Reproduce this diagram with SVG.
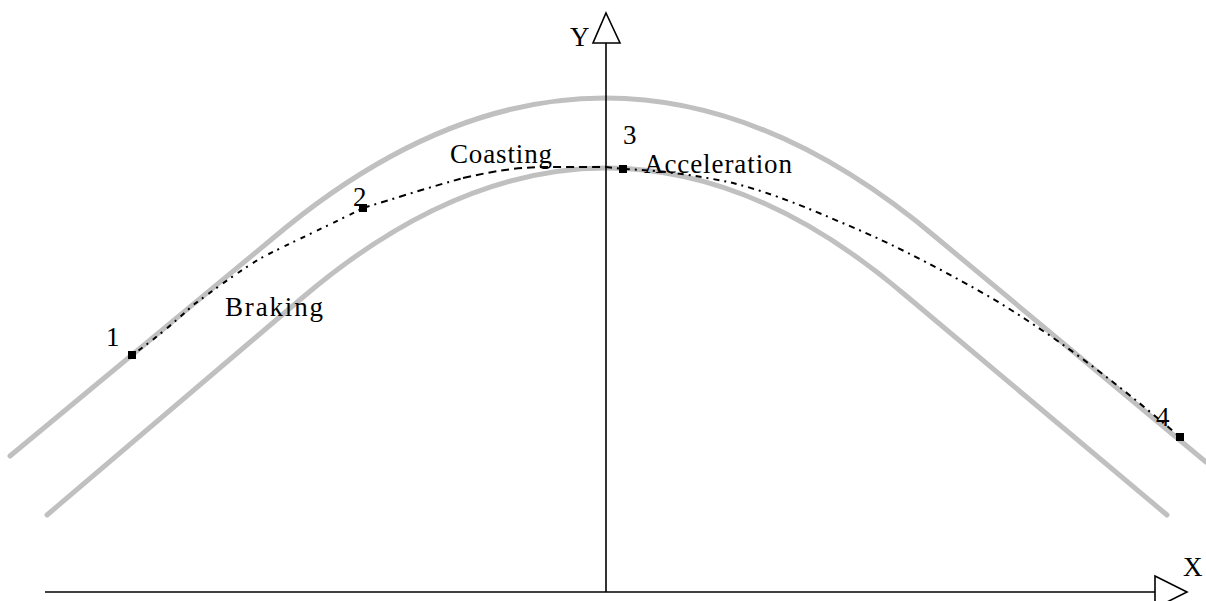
<svg xmlns="http://www.w3.org/2000/svg" width="1206" height="601" viewBox="0 0 1206 601">
<style>
.road{fill:none;stroke:#c0c0c0;stroke-width:5;stroke-linejoin:round;stroke-linecap:round}
.axis{fill:none;stroke:#000;stroke-width:1.6}
.arrow{fill:#fff;stroke:#000;stroke-width:1.6;stroke-linejoin:miter}
.traj{fill:none;stroke:#000;stroke-width:2;stroke-linejoin:round}
.pt{fill:#000}
text{font-family:"Liberation Serif","Times New Roman",serif;font-size:27px;fill:#000}
</style>
<rect width="1206" height="601" fill="#fff"/>
<g id="road">
<path class="road" d="M10,456 L272,239 Q605,-43 938,239 L1206,462"/>
<path class="road" d="M47,515 L302,298 Q605,40 904,294 L1167,515"/>
</g>
<g id="axes">
<line class="axis" x1="606" y1="43" x2="606" y2="592"/>
<polygon class="arrow" points="606,13 620,43 593,43"/>
<text x="570" y="46">Y</text>
<line class="axis" x1="45" y1="592" x2="1155" y2="592"/>
<polygon class="arrow" points="1155,576 1187,592 1155,608"/>
<text x="1183" y="576">X</text>
</g>
<g id="connectors">
<path class="traj" stroke-dasharray="2 6 5 5" d="M132,355 C150,343 180,318 193,305 C210,293 240,270 263,257 C290,243 330,225 363,208"/>
<path class="traj" stroke-dasharray="7 5 2 5" d="M363,208 C390,200 420,190 463,178"/>
<path class="traj" stroke-dasharray="8 5" d="M463,178 C490,172 510,168 540,167 L606,167"/>
<path class="traj" stroke-dasharray="6 5 2 5" d="M606,167 L622,169 C660,170 700,176 733,183 C760,190 790,200 840,222 C880,238 930,263 990,297 C1050,333 1110,377 1180,437"/>
</g>
<g id="node-1"><rect class="pt" x="128" y="351" width="8" height="8"/><text x="106" y="346">1</text></g>
<g id="node-2"><rect class="pt" x="359" y="204" width="8" height="8"/><text x="353" y="206">2</text></g>
<g id="node-3"><rect class="pt" x="619" y="165" width="8" height="8"/><text x="623" y="144">3</text></g>
<g id="node-4"><rect class="pt" x="1176" y="433" width="8" height="8"/><text x="1156" y="426">4</text></g>
<g id="label-braking"><text x="225" y="316" textLength="98" lengthAdjust="spacing">Braking</text></g>
<g id="label-coasting"><text x="450" y="163" textLength="102" lengthAdjust="spacing">Coasting</text></g>
<g id="label-acceleration"><text x="644" y="173" textLength="148" lengthAdjust="spacing">Acceleration</text></g>
</svg>
